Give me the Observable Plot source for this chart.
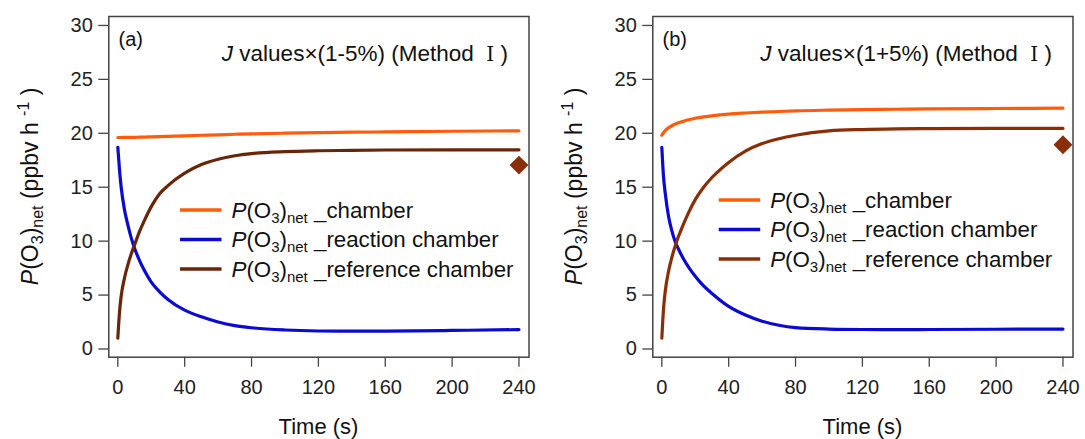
<!DOCTYPE html>
<html><head><meta charset="utf-8">
<script src="https://cdn.jsdelivr.net/npm/d3@7"></script>
<script src="https://cdn.jsdelivr.net/npm/@observablehq/plot@0.6"></script>
<style>
html,body{margin:0;padding:0;background:#fff;}
#wrap{display:flex;width:1085px;height:439px;overflow:hidden;}
svg text{font-family:Arial,"Liberation Sans",sans-serif;}
</style></head><body><div id="wrap"></div>
<script>
// ---- data ----
const timeS = [0,1,2,4,6,8,10,13,16,20,25,30,40,50,60,70,80,100,120,140,160,200,240];
const chamberA   = [19.61,19.61,19.61,19.62,19.62,19.63,19.63,19.64,19.65,19.67,19.69,19.72,19.77,19.82,19.86,19.91,19.95,20.01,20.06,20.10,20.13,20.19,20.23];
const reactionA  = [18.70,16.60,15.00,12.90,11.50,10.30,9.35,8.20,7.25,6.20,5.30,4.60,3.60,2.98,2.50,2.17,1.97,1.76,1.67,1.65,1.66,1.72,1.80];
const referenceA = [1.00,3.40,4.90,6.60,7.80,8.80,9.65,10.90,11.95,13.20,14.40,15.15,16.30,17.10,17.60,17.92,18.12,18.30,18.38,18.42,18.45,18.47,18.47];
const chamberB   = [19.82,20.05,20.25,20.50,20.70,20.85,20.98,21.12,21.25,21.40,21.53,21.62,21.78,21.88,21.96,22.02,22.08,22.15,22.20,22.23,22.26,22.30,22.33];
const reactionB  = [18.70,16.00,14.50,12.30,10.95,9.95,9.25,8.35,7.60,6.75,5.85,5.15,3.95,3.15,2.58,2.20,1.98,1.85,1.81,1.80,1.81,1.83,1.85];
const referenceB = [1.00,3.70,5.30,7.20,8.50,9.55,10.45,11.60,12.65,13.85,15.00,15.90,17.30,18.35,19.05,19.50,19.82,20.22,20.35,20.41,20.43,20.45,20.45];
const measuredTime = [240];
const measuredA = [17.05];
const measuredB = [18.94];
const xTicks = [0,40,80,120,160,200,240];
const yTicks = [0,5,10,15,20,25,30];
const seriesNames = ["chamber","reaction chamber","reference chamber"];
const panelLabels = ["(a)","(b)"];
const jFactors = ["1-5%","1+5%"];
const xTitle = "Time (s)";

const ORANGE = "#ff5c0a", BLUE = "#0a0ad2";

function rich(sel, parts, sub) {
  let shift = 0;
  for (const p of parts) {
    const ts = sel.append("tspan").text(p.t);
    const target = p.sub ? 5 : p.sup ? -9 : 0;
    if (target - shift !== 0) ts.attr("dy", target - shift);
    shift = target;
    if (p.sub || p.sup) ts.attr("font-size", sub);
    if (p.it) ts.attr("font-style", "italic");
    if (p.roman) ts.attr("font-family", "'DejaVu Serif', 'Liberation Serif', serif").attr("font-size", 20);
  }
}
function pO3(rest) {
  return [{t:"P", it:true},{t:"(O"},{t:"3", sub:true},{t:")"},{t:"net", sub:true},{t:rest}];
}

function makePanel(k, width, chamber, reaction, reference, measured, brown, legX, legY) {
  const rows = [];
  const sets = [chamber, reaction, reference];
  sets.forEach((arr, si) => arr.forEach((v, i) => rows.push({t: timeS[i], v, s: seriesNames[si]})));
  const pts = measuredTime.map((t, i) => ({t, v: measured[i]}));
  const cols = [ORANGE, BLUE, brown];
  const plot = Plot.plot({
    width, height: 439,
    marginLeft: 108.3, marginRight: width - 528.5, marginTop: 16, marginBottom: 82.3,
    style: {fontFamily: "Arial, 'Liberation Sans', sans-serif", fontSize: "20px", color: "#222", background: "#fff", overflow: "visible"},
    x: {domain: [-5.4, 246], label: null},
    y: {domain: [-0.76, 30.83], label: null},
    marks: [
      Plot.axisX({ticks: xTicks, tickSize: 10, tickPadding: 13, label: null, stroke: "#444", strokeWidth: 1.3}),
      Plot.axisY({ticks: yTicks, tickSize: 10, tickPadding: 6, label: null, stroke: "#444", strokeWidth: 1.3}),
      ...seriesNames.map((name, si) => Plot.line(rows.filter(d => d.s === name), {x: "t", y: "v", stroke: cols[si], strokeWidth: 3.2, curve: "monotone-x"})),
      Plot.dot(pts, {x: "t", y: "v", symbol: "diamond2", r: 8.5, fill: "#8a2e08", stroke: "none"}),
      Plot.frame({stroke: "#444", strokeWidth: 1.5})
    ]
  });
  const svg = d3.select(plot);
  svg.append("text").attr("x", 118.5).attr("y", 45.5).attr("text-anchor", "start").attr("font-size", 20).attr("fill", "#111").text(panelLabels[k]);
  const ann = svg.append("text").attr("x", 508).attr("y", 61).attr("text-anchor", "end").attr("font-size", 22.5).attr("fill", "#111");
  rich(ann, [{t:"J", it:true},{t:" values×(" + jFactors[k] + ") (Method  "},{t:"Ⅰ", roman:true},{t:" )"}], 15);
  seriesNames.forEach((name, si) => {
    const y = legY + si * 29.5;
    svg.append("line").attr("x1", legX).attr("x2", legX + 41.5).attr("y1", y).attr("y2", y).attr("stroke", cols[si]).attr("stroke-width", 3.6);
    const t = svg.append("text").attr("x", legX + 51.5).attr("y", y + 7.5).attr("text-anchor", "start").attr("font-size", 22.3).attr("fill", "#111");
    rich(t, pO3(" _" + name), 15);
  });
  const yl = svg.append("text").attr("transform", "translate(38,186.4) rotate(-90)").attr("text-anchor", "middle").attr("font-size", 23).attr("fill", "#111");
  rich(yl, [{t:"P", it:true},{t:"(O"},{t:"3", sub:true},{t:")"},{t:"net", sub:true},{t:" (ppbv h "},{t:"-1", sup:true},{t:" )"}], 16);
  svg.append("text").attr("x", 318.5).attr("y", 434).attr("text-anchor", "middle").attr("font-size", 22).attr("fill", "#111").text(xTitle);
  return plot;
}

const wrap = document.getElementById("wrap");
wrap.appendChild(makePanel(0, 544, chamberA, reactionA, referenceA, measuredA, "#6a2508", 180, 210));
wrap.appendChild(makePanel(1, 541, chamberB, reactionB, referenceB, measuredB, "#8a2e08", 174.7, 200));
</script></body></html>
